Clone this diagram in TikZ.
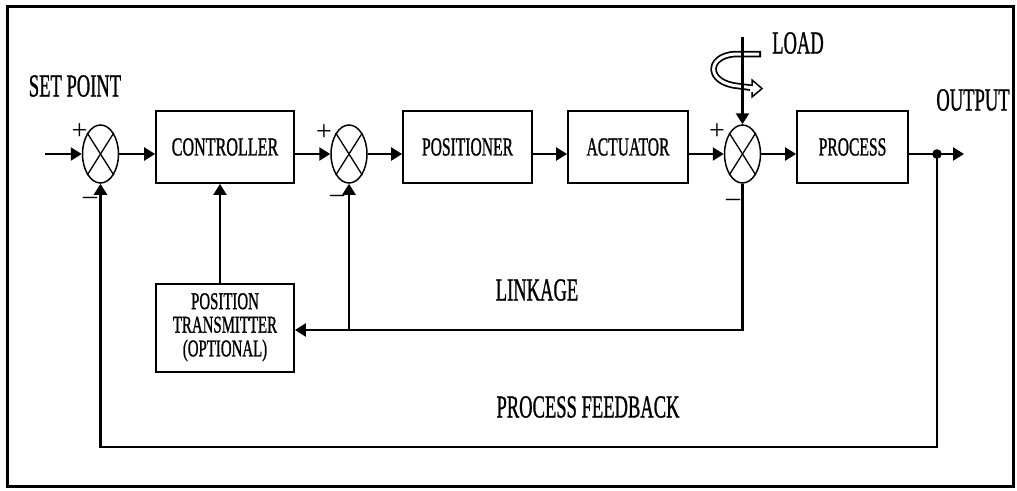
\documentclass[tikz,border=0pt]{standalone}
\usepackage{graphicx}
\usepackage{fontspec}
\setmainfont{Liberation Serif}[FakeBold=1.3]
\newfontfamily\sgnfont{Liberation Serif}
\usetikzlibrary{arrows.meta,shapes.geometric}
\newcommand{\lbl}[1]{\scalebox{0.58}[1]{\fontsize{32}{32}\selectfont #1}}
\newcommand{\btx}[2][0.6]{\scalebox{#1}[1]{\fontsize{26}{26}\selectfont #2}}
\begin{document}
\begin{tikzpicture}[x=1pt,y=-1pt,
  box/.style={draw,line width=1.8pt,inner sep=0pt,minimum height=72pt},
  sumj/.style={draw,ellipse,line width=1.5pt,inner sep=0pt,minimum width=36pt,minimum height=58pt},
  conn/.style={line width=2.4pt},
  arr/.style={-{Triangle[length=11pt,width=13pt]}},
  txt/.style={inner sep=0pt},
  sgn/.style={inner sep=0pt,font=\sgnfont\fontsize{28}{28}\selectfont}]
\useasboundingbox (0,0) rectangle (1017,490);
\draw[line width=3pt] (7,6) rectangle (1013,486);

% blocks
\node[box,minimum width=138pt] (ctrl) at (225,147) {\btx[0.62]{CONTROLLER}};
\node[box,minimum width=129pt] (pos) at (467.5,147) {\btx{POSITIONER}};
\node[box,minimum width=120pt] (act) at (628,147) {\btx{ACTUATOR}};
\node[box,minimum width=111pt] (proc) at (852.5,147) {\btx{PROCESS}};
\node[box,minimum width=138pt,minimum height=88pt] (trans) at (225,328)
  {\scalebox{0.62}[1]{\fontsize{24}{23.5}\selectfont\begin{tabular}{@{}c@{}}POSITION\\TRANSMITTER\\(OPTIONAL)\end{tabular}}};

% summing junctions
\node[sumj] (s1) at (100.5,154) {};
\node[sumj] (s2) at (349,154) {};
\node[sumj] (s3) at (742.5,154) {};
\foreach \s in {s1,s2,s3}{
  \draw[line width=1.3pt] (\s.north west) -- (\s.south east);
  \draw[line width=1.3pt] (\s.north east) -- (\s.south west);
}

% coordinates
\coordinate (in) at (45,154);
\coordinate (out) at (964,154);
\coordinate (dot) at (937,154);
\coordinate (fb1) at (937,447);
\coordinate (fb2) at (100.5,447);
\coordinate (lk) at (742.5,330);
\coordinate (br) at (349,330);
\coordinate (loadtop) at (742.5,37);

% forward path
\draw[conn,arr] (in) -- (s1.west);
\draw[conn,arr] (s1.east) -- (s1.east -| ctrl.west);
\draw[conn,arr] (s1.east -| ctrl.east) -- (s2.west);
\draw[conn,arr] (s2.east) -- (s2.east -| pos.west);
\draw[conn,arr] (s2 -| pos.east) -- (s2 -| act.west);
\draw[conn,arr] (s3 -| act.east) -- (s3.west);
\draw[conn,arr] (s3.east) -- (s3 -| proc.west);
\draw[conn,arr] (s3 -| proc.east) -- (out);
\fill (dot) circle (4.8pt);

% feedback
\draw[conn,arr] (dot) -- (fb1) -- (fb2) -- (s1.south);
\draw[conn,arr] (s3.south) -- (lk) -- (lk -| trans.east);
\draw[conn,arr] (br) -- (s2.south);
\draw[conn,arr] ([xshift=-5pt]trans.north) -- ([xshift=-5pt]ctrl.south);

% load
\draw[line width=6.5pt] (761,54) -- (735,54) .. controls (706,56) and (706,83) .. (738,86) -- (753,88);
\draw[line width=3pt,white] (759,54) -- (735,54) .. controls (706,56) and (706,83) .. (738,86) -- (754,88);
\draw[line width=1.5pt,fill=white] (752,80) -- (762,88.5) -- (752,97) -- cycle;
\draw[white,line width=2.5pt] (751.3,85.5) -- (751.3,91.5);
\draw[conn,arr] (loadtop) -- (s3.north);

% labels
\node[txt] (lsp) at (75,86) {\lbl{SET POINT}};
\node[txt] (lout) at (973,100) {\lbl{OUTPUT}};
\node[txt] (lload) at (798,43) {\lbl{LOAD}};
\node[txt] (llink) at (537,290) {\lbl{LINKAGE}};
\node[txt] (lfb) at (588,407) {\lbl{PROCESS FEEDBACK}};

% signs
\node[sgn] (p1) at (79.5,131.5) {+};
\node[sgn] (m1) at (90,201) {–};
\node[sgn] (p2) at (324,133) {+};
\node[sgn] (m2) at (337,199) {–};
\node[sgn] (p3) at (717,132) {+};
\node[sgn] (m3) at (733,203) {–};
\end{tikzpicture}
\end{document}
